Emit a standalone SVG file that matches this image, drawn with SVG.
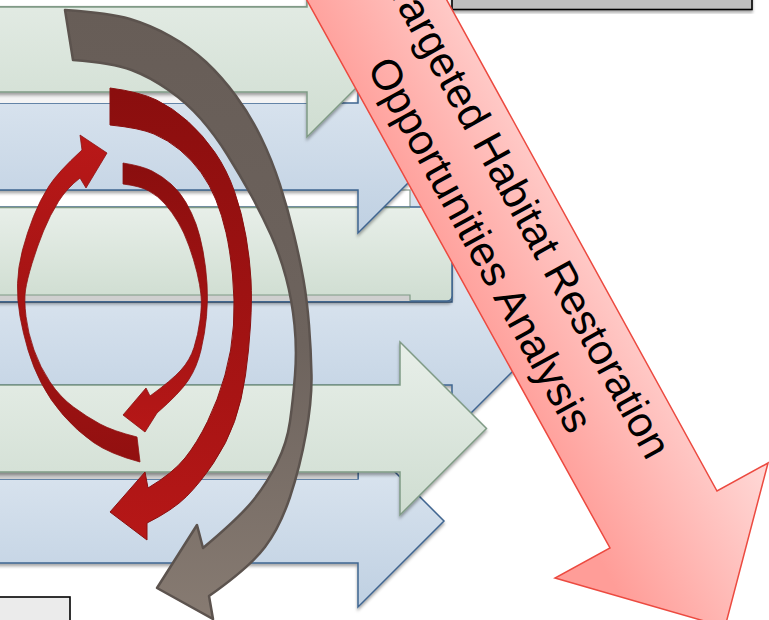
<svg xmlns="http://www.w3.org/2000/svg" width="769" height="620" viewBox="0 0 769 620">
<defs>
<style>
.g{fill:url(#gGreen);stroke:#7f9a85;stroke-width:1.5}
.b{fill:url(#gBlue);stroke:#3f6590;stroke-width:1.5}
.strip{fill:#ffffff;stroke:#8a9c8f;stroke-width:1.2}
.gstrip{fill:#cfcfcf;stroke:none}
.box{stroke:#000;stroke-width:1.6}
.lbl{font-family:"Liberation Sans",Arial,sans-serif;font-size:42.5px;fill:#000;text-anchor:middle}
</style>
<linearGradient id="gGreen" x1="0" y1="0" x2="0" y2="1"><stop offset="0" stop-color="#e8efe9"/><stop offset="1" stop-color="#cfddd1"/></linearGradient>
<linearGradient id="gBlue" x1="0" y1="0" x2="0" y2="1"><stop offset="0" stop-color="#dfe8f1"/><stop offset="1" stop-color="#bfd0e2"/></linearGradient>
<linearGradient id="gGray" x1="0" y1="0" x2="0" y2="1"><stop offset="0" stop-color="#675d57"/><stop offset="0.55" stop-color="#6d635d"/><stop offset="1" stop-color="#877b72"/></linearGradient>
<linearGradient id="gRedDown" x1="0" y1="0" x2="0" y2="1"><stop offset="0" stop-color="#8a0e0e"/><stop offset="1" stop-color="#b61717"/></linearGradient>
<linearGradient id="gRedUp" x1="0" y1="0" x2="0" y2="1"><stop offset="0" stop-color="#b91818"/><stop offset="1" stop-color="#921010"/></linearGradient>
<linearGradient id="gPink" gradientUnits="userSpaceOnUse" x1="470" y1="330" x2="630" y2="240"><stop offset="0" stop-color="#ff9d98"/><stop offset="1" stop-color="#ffd6d4"/></linearGradient>
<filter id="sh" x="-10%" y="-10%" width="120%" height="130%"><feDropShadow dx="0" dy="2.5" stdDeviation="1.6" flood-color="#000" flood-opacity="0.35"/></filter>
</defs>

<g id="topStrip"><rect class="strip" x="-10" y="-10" width="317" height="16.5"/></g>

<g id="arrowF" filter="url(#sh)"><path class="b" d="M-10,479 H358 V435 L444,521 L358,607 V563 H-10 Z"/></g>
<g id="stripEF"><rect class="gstrip" x="-10" y="472" width="368" height="7"/><path d="M358,472 V479" stroke="#3f6590" stroke-width="1.2"/></g>
<g id="arrowD" filter="url(#sh)"><path class="b" d="M-10,302 H452 V255 L540.5,343.5 L452,432 V385 H-10 Z"/></g>
<g id="arrowE" filter="url(#sh)"><path class="g" d="M-10,385 H400 V342 L486.5,428.5 L400,515 V472 H-10 Z"/></g>
<g id="bluePatch"><rect x="410" y="172" width="42" height="36" fill="#d6e1ed"/></g>
<g id="stripBC"><rect class="strip" x="-10" y="190" width="420" height="40"/></g>
<g id="rectC" filter="url(#sh)"><path d="M-10,207 H452 V296 Q452,301 447,301 H-10 Z" fill="url(#gGreen)" stroke="#3f6590" stroke-width="1.5"/><path d="M-10,207.5 H410" stroke="#7f9a85" stroke-width="1.5"/></g>
<g id="stripCD"><rect class="gstrip" x="-10" y="295" width="420" height="6"/><path d="M-10,295 H410 V301" fill="none" stroke="#7f9a85" stroke-width="1.2"/></g>
<g id="arrowB" filter="url(#sh)"><path class="b" d="M-10,103 H358 V60 L444.5,146.5 L358,233 V190 H-10 Z"/></g>
<g id="stripAB"><rect x="-10" y="92" width="317" height="11" fill="#f4f4f4"/></g>
<g id="arrowA" filter="url(#sh)"><path class="g" d="M-10,7 H307 V-38 L394.5,49.5 L307,137 V92 H-10 Z"/></g>

<g id="connectors">
<path id="grayArc" fill="url(#gGray)" stroke="#5c534e" stroke-width="2.5" stroke-linejoin="round" d="M65,10 Q110,13 130,19 Q150,25 170,36 Q190,47 206,62 Q222,77 236,96 Q250,115 261,137.5 Q272,160 280,185 Q288,210 294,235 Q300,260 303.5,280 Q307,300 309,325 Q311,350 311.5,375 Q312,400 306,433.5 Q300,467 290,497 Q280,527 265,547 Q250,567 209,596 L213,619 L157,588 L197,525 L203,548 Q240,517 253.5,500 Q267,483 277,463 Q287,443 290,421.5 Q293,400 295,375 Q297,350 294.5,325 Q292,300 286,277.5 Q280,255 271,235 Q262,215 251,195 Q240,175 227.5,155 Q215,135 201,119 Q187,103 168.5,90 Q150,77 131.5,70 Q113,63 73,60 Z"/>
<path id="redOuter" fill="url(#gRedDown)" stroke="#8a1010" stroke-width="1" d="M110,88 Q140,92 156.5,100 Q173,108 188,121.5 Q203,135 215,152.5 Q227,170 234.5,191.5 Q242,213 246,236.5 Q250,260 251,280 Q252,300 250.5,325 Q249,350 245.5,375 Q242,400 234.5,421.5 Q227,443 213.5,463 Q200,483 186.5,496.5 Q173,510 147,523 L147,540 L110,512 L145,472 L148,488 Q173,473 185,458 Q197,443 207.5,421.5 Q218,400 225,375 Q232,350 233.5,325 Q235,300 232.5,275 Q230,250 226,232.5 Q222,215 216,200 Q210,185 201,172.5 Q192,160 180,150 Q168,140 154,134 Q140,128 110,125 Z"/>
<path id="redInnerRight" fill="url(#gRedDown)" stroke="#8a1010" stroke-width="0.8" d="M123,163 Q142,166 152,171 Q162,176 171,184 Q180,192 186,202.5 Q192,213 196,224 Q200,235 203,251 Q206,267 207,283.5 Q208,300 206.5,316.5 Q205,333 201,350 Q197,367 188.5,380 Q180,393 157,413 L145,432 L123,415 L146,388 L150,396 Q172,380 181,370 Q190,360 194,347.5 Q198,335 200,320 Q202,305 201,295 Q200,285 197,272.5 Q194,260 189,246 Q184,232 178,222 Q172,212 165,204 Q158,196 149,191 Q140,186 123,184 Z"/>
<path id="redLeft" fill="url(#gRedUp)" stroke="#8e1111" stroke-width="0.8" d="M140,462 Q110,454 93.5,442.5 Q77,431 63.5,415.5 Q50,400 41.5,383.5 Q33,367 28,350 Q23,333 20,316.5 Q17,300 17.5,283.5 Q18,267 22.5,250 Q27,233 33.5,216.5 Q40,200 49,186 Q58,172 82,150 L80,135 L107,153 L86,188 L80,178 Q67,188 58.5,201.5 Q50,215 43.5,231 Q37,247 32,263.5 Q27,280 25.5,290 Q24,300 26,316.5 Q28,333 34,350 Q40,367 50,382 Q60,397 73.5,407 Q87,417 100,424 Q113,431 137,437 Z"/>
</g>

<g id="topRightBox" filter="url(#sh)"><rect class="box" x="452" y="-10" width="300" height="19.5" fill="#bfbfbf"/></g>
<g id="bottomLeftBox"><rect class="box" x="-5" y="597" width="75" height="40" fill="#ebebeb"/></g>

<g id="bigArrow">
<path d="M304,-5 L610,548 L555,578 L725,627 L768,463 L717,491 L444,-5 Z" fill="url(#gPink)" stroke="#ec4a40" stroke-width="1.5" stroke-linejoin="miter"/>
<g transform="translate(504.5,231.5) rotate(61.2)">
<text class="lbl" x="0" y="-14">Targeted Habitat Restoration</text>
<text class="lbl" x="0" y="42">Opportunities Analysis</text>
</g>
</g>
</svg>
